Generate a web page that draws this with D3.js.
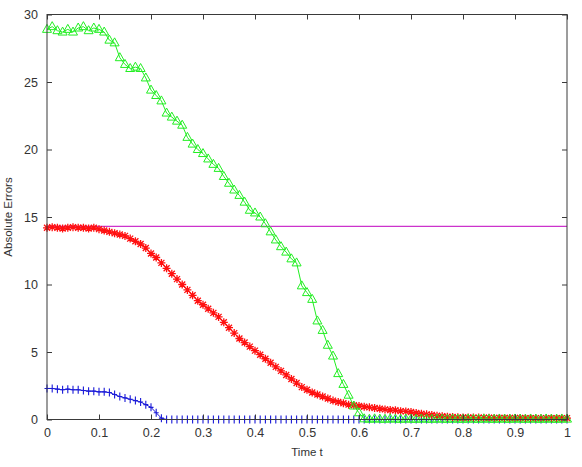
<!DOCTYPE html>
<html><head><meta charset="utf-8">
<script src="https://cdn.jsdelivr.net/npm/d3@7"></script>
<style>body{margin:0;background:#fff;}svg{display:block;font-family:"Liberation Sans",Arial,sans-serif;}</style>
</head><body>
<svg id="chart" width="582" height="467"></svg>
<script>
const xTicks = [0,0.1,0.2,0.3,0.4,0.5,0.6,0.7,0.8,0.9,1];
const yTicks = [0,5,10,15,20,25,30];
const tValues = d3.range(0,101).map(i => i/100);
const greenValues = [28.9,29.1,28.8,28.7,28.9,28.7,29.0,29.1,28.8,29.0,
 28.9,28.7,28.1,27.9,26.8,26.3,26.0,26.1,26.0,25.3,
 24.4,24.0,23.6,22.7,22.4,22.1,21.8,20.9,20.4,20.0,
 19.7,19.3,18.9,18.6,18.0,17.5,17.0,16.6,16.1,15.5,
 15.3,15.0,14.5,13.9,13.3,12.8,12.4,11.9,11.6,9.9,
 9.4,8.9,7.3,6.6,5.5,4.7,3.4,2.6,1.8,1.0,
 0.5,0.05,0.02,0.05,0.03,0.02,0.05,0.03,0.02,0.04,
 0.03,0.02,0.04,0.03,0.02,0.04,0.03,0.02,0.04,0.03,
 0.02,0.04,0.03,0.02,0.04,0.03,0.02,0.04,0.03,0.02,
 0.04,0.03,0.02,0.04,0.03,0.02,0.04,0.03,0.02,0.04,
 0.03];
const redValues = [14.2,14.25,14.2,14.15,14.2,14.25,14.2,14.2,14.15,14.2,
 14.1,14.0,13.9,13.8,13.7,13.6,13.4,13.2,13.0,12.7,
 12.3,12.0,11.6,11.2,10.8,10.4,10.0,9.6,9.2,8.8,
 8.5,8.2,7.9,7.6,7.2,6.8,6.4,6.0,5.7,5.4,
 5.1,4.8,4.5,4.2,3.9,3.6,3.3,3.0,2.7,2.4,
 2.2,2.0,1.85,1.7,1.55,1.4,1.3,1.2,1.1,1.05,
 1.0,0.95,0.9,0.85,0.8,0.75,0.7,0.68,0.62,0.6,
 0.55,0.48,0.42,0.38,0.33,0.28,0.24,0.2,0.18,0.16,
 0.15,0.15,0.14,0.14,0.13,0.13,0.12,0.12,0.12,0.11,
 0.11,0.11,0.1,0.1,0.1,0.1,0.1,0.1,0.1,0.1,
 0.1];
const blueValues = [2.3,2.3,2.25,2.2,2.25,2.2,2.2,2.15,2.1,2.1,
 2.05,2.05,2.0,1.85,1.7,1.6,1.5,1.4,1.3,1.1,
 0.9,0.5,0.1,0,0,0,0,0,0,0,
 0,0,0,0,0,0,0,0,0,0,
 0,0,0,0,0,0,0,0,0,0,
 0,0,0,0,0,0,0,0,0,0,
 0,0,0,0,0,0,0,0,0,0,
 0,0,0,0,0,0,0,0,0,0,
 0,0,0,0,0,0,0,0,0,0,
 0,0,0,0,0,0,0,0,0,0,
 0];
const thresholdValue = 14.3;

const svg = d3.select("#chart");
const L = 47, R = 567, T = 14.5, B = 419.5;
const x = d3.scaleLinear().domain([0,1]).range([L,R]);
const y = d3.scaleLinear().domain([0,30]).range([B,T]);
const axisColor = "#3a3a3a";

const plot = svg.append("g");
const line = d3.line().x((d,i)=>x(tValues[i])).y(d=>y(d));

plot.append("line").attr("x1",x(0)).attr("x2",x(1)).attr("y1",y(thresholdValue)).attr("y2",y(thresholdValue))
  .attr("stroke","#cc33cc").attr("stroke-width",1.2);

function series(vals,color,markerPath,sw){
  plot.append("path").datum(vals).attr("d",line).attr("fill","none").attr("stroke",color).attr("stroke-width",1);
  plot.append("g").selectAll("path").data(vals).join("path")
    .attr("transform",(d,i)=>`translate(${x(tValues[i])},${y(d)})`)
    .attr("d",markerPath).attr("fill","none").attr("stroke",color).attr("stroke-width",sw);
}
const plusPath = "M-2.5,0H2.5M0,-4V4";
const starPath = "M-4,0H4M0,-4V4M-3,-3L3,3M-3,3L3,-3";
const triPath = "M0,-5L4.5,3L-4.5,3Z";
series(blueValues,"#1a1ad8",plusPath,1.1);
series(redValues,"#ff1010",starPath,1.3);
series(greenValues,"#22ee22",triPath,1);

const ax = svg.append("g");
ax.append("rect").attr("x",L).attr("y",T).attr("width",R-L).attr("height",B-T)
  .attr("fill","none").attr("stroke",axisColor).attr("stroke-width",1);
const gBottom = ax.append("g").attr("transform",`translate(0,${B})`)
  .call(d3.axisBottom(x).tickValues(xTicks).tickSize(-5).tickPadding(9).tickFormat(d3.format("")));
const gTop = ax.append("g").attr("transform",`translate(0,${T})`)
  .call(d3.axisTop(x).tickValues(xTicks).tickSize(-5).tickFormat(""));
const gLeft = ax.append("g").attr("transform",`translate(${L},0)`)
  .call(d3.axisLeft(y).tickValues(yTicks).tickSize(-5).tickPadding(9));
const gRight = ax.append("g").attr("transform",`translate(${R},0)`)
  .call(d3.axisRight(y).tickValues(yTicks).tickSize(-5).tickFormat(""));
[gBottom,gTop,gLeft,gRight].forEach(g=>{
  g.select(".domain").remove();
  g.selectAll(".tick line").attr("stroke",axisColor);
  g.selectAll(".tick text").attr("fill","#333").attr("font-size",12.5).attr("font-family","'Liberation Sans',Arial,sans-serif");
});

svg.append("text").attr("x",x(0.5)).attr("y",456).attr("text-anchor","middle")
  .attr("font-size",11.5).attr("fill","#333").text("Time t");
svg.append("text").attr("transform",`translate(12,${y(15)}) rotate(-90)`).attr("text-anchor","middle")
  .attr("font-size",11.5).attr("fill","#333").text("Absolute Errors");
</script>
</body></html>
